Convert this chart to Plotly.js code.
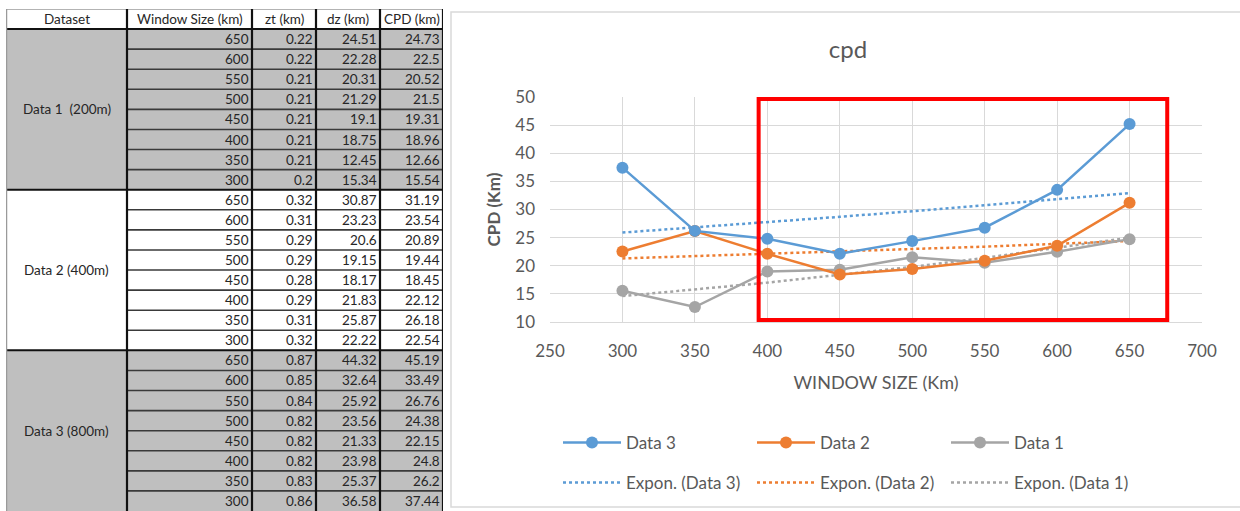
<!DOCTYPE html>
<html>
<head>
<meta charset="utf-8">
<script src="https://cdn.plot.ly/plotly-3.0.1.min.js"></script>
<style>html,body{margin:0;padding:0;background:#fff;}#chart{width:1240px;height:511px;}</style>
</head>
<body>
<div id="chart"></div>
<script>
// ---- Table data (as printed, rows from 650 down to 300) ----
const tableHeaders = ["Dataset", "Window Size (km)", "zt (km)", "dz (km)", "CPD (km)"];
const datasetLabels = ["Data 1  (200m)", "Data 2 (400m)", "Data 3 (800m)"];
const windowSizes = [650, 600, 550, 500, 450, 400, 350, 300];
const zt1 = [0.22, 0.22, 0.21, 0.21, 0.21, 0.21, 0.21, 0.2];
const dz1 = [24.51, 22.28, 20.31, 21.29, 19.1, 18.75, 12.45, 15.34];
const cpd1 = [24.73, 22.5, 20.52, 21.5, 19.31, 18.96, 12.66, 15.54];
const zt2 = [0.32, 0.31, 0.29, 0.29, 0.28, 0.29, 0.31, 0.32];
const dz2 = [30.87, 23.23, 20.6, 19.15, 18.17, 21.83, 25.87, 22.22];
const cpd2 = [31.19, 23.54, 20.89, 19.44, 18.45, 22.12, 26.18, 22.54];
const zt3 = [0.87, 0.85, 0.84, 0.82, 0.82, 0.82, 0.83, 0.86];
const dz3 = [44.32, 32.64, 25.92, 23.56, 21.33, 23.98, 25.37, 36.58];
const cpd3 = [45.19, 33.49, 26.76, 24.38, 22.15, 24.8, 26.2, 37.44];

// ---- Chart data ----
const chartTitle = "cpd";
const seriesNames = ["Data 3", "Data 2", "Data 1"];
const trendNames = ["Expon. (Data 3)", "Expon. (Data 2)", "Expon. (Data 1)"];
// exponential trendline values (x = 300..650)
const trend3 = [25.9, 26.8, 27.8, 28.7, 29.7, 30.8, 31.8, 32.9];
const trend2 = [21.3, 21.7, 22.1, 22.5, 23.0, 23.4, 23.9, 24.4];
const trend1 = [14.6, 15.8, 17.0, 18.4, 19.8, 21.4, 23.2, 25.0];
const highlightRange = {x: [394, 676], y: [10.35, 49.65]};

// ---- styles ----
const FONT = "Lato, 'Open Sans', sans-serif";
const TXT = "#595959";
const colors = {"Data 3": "#5B9BD5", "Data 2": "#ED7D31", "Data 1": "#A5A5A5"};
const groupFill = ["#BFBFBF", "#FFFFFF", "#BFBFBF"];
const colEdges = [0, 121, 246, 310, 374, 437]; // table column edges (x2 units)

const xs = windowSizes.slice().reverse();
const cpdBySeries = {"Data 3": cpd3.slice().reverse(), "Data 2": cpd2.slice().reverse(), "Data 1": cpd1.slice().reverse()};
const trendBySeries = {"Data 3": trend3, "Data 2": trend2, "Data 1": trend1};

const traces = [];
seriesNames.forEach((name, i) => {
  traces.push({
    type: "scatter", mode: "lines", x: xs, y: trendBySeries[name],
    name: trendNames[i], legend: "legend2", legendrank: i + 1,
    line: {color: colors[name], width: 2.5, dash: "dot"}, hoverinfo: "skip"
  });
});
seriesNames.slice().reverse().forEach((name) => {
  traces.push({
    type: "scatter", mode: "lines+markers", x: xs, y: cpdBySeries[name],
    name: name, legend: "legend", legendrank: seriesNames.indexOf(name) + 1,
    line: {color: colors[name], width: 2.5},
    marker: {color: colors[name], size: 12, symbol: "circle"}
  });
});
// invisible trace so the table axes exist
traces.push({type: "scatter", x: [0], y: [0], xaxis: "x2", yaxis: "y2", mode: "markers",
  marker: {opacity: 0}, showlegend: false, hoverinfo: "skip"});

// ---- table shapes & texts ----
const shapes = [];
const annotations = [];
const groups = [
  {label: datasetLabels[0], zt: zt1, dz: dz1, cpd: cpd1},
  {label: datasetLabels[1], zt: zt2, dz: dz2, cpd: cpd2},
  {label: datasetLabels[2], zt: zt3, dz: dz3, cpd: cpd3}
];
const nRows = windowSizes.length;
shapes.push({type: "rect", xref: "x2", yref: "y2", x0: 0, x1: colEdges[5], y0: -1, y1: 0,
  fillcolor: "#FFFFFF", line: {width: 0}, layer: "below"});
groups.forEach((g, gi) => {
  shapes.push({type: "rect", xref: "x2", yref: "y2", x0: 0, x1: colEdges[5],
    y0: gi * nRows, y1: (gi + 1) * nRows, fillcolor: groupFill[gi], line: {width: 0}, layer: "below"});
});
for (let r = 1; r < groups.length * nRows; r++) {
  const isGroup = r % nRows === 0;
  shapes.push({type: "line", xref: "x2", yref: "y2", x0: isGroup ? 0 : colEdges[1], x1: colEdges[5],
    y0: r, y1: r, line: {color: isGroup ? "#111111" : "#3a3a3a", width: isGroup ? 2 : 1.6}});
}
shapes.push({type: "line", xref: "x2", yref: "y2", x0: 0, x1: colEdges[5], y0: 0, y1: 0,
  line: {color: "#111111", width: 2}});
shapes.push({type: "line", xref: "x2", yref: "y2", x0: 0, x1: colEdges[5], y0: -1, y1: -1,
  line: {color: "#9a9a9a", width: 1.5}});
shapes.push({type: "line", xref: "x2", yref: "y2", x0: 0.5, x1: 0.5, y0: -1, y1: 30,
  line: {color: "#9a9a9a", width: 1.5}});
for (let c = 1; c < colEdges.length; c++) {
  shapes.push({type: "line", xref: "x2", yref: "y2", x0: colEdges[c], x1: colEdges[c], y0: -1, y1: 30,
    line: {color: "#111111", width: 2.2}});
}
const tFont = {family: FONT, size: 13.5, color: "#262626"};
tableHeaders.forEach((h, c) => {
  annotations.push({xref: "x2", yref: "y2", x: (colEdges[c] + colEdges[c + 1]) / 2, y: -0.5,
    text: h, showarrow: false, xanchor: "center", yanchor: "middle", font: tFont});
});
groups.forEach((g, gi) => {
  annotations.push({xref: "x2", yref: "y2", x: (colEdges[0] + colEdges[1]) / 2, y: gi * nRows + nRows / 2,
    text: g.label, showarrow: false, xanchor: "center", yanchor: "middle", font: tFont});
  windowSizes.forEach((w, r) => {
    const vals = [w, g.zt[r], g.dz[r], g.cpd[r]];
    vals.forEach((v, k) => {
      annotations.push({xref: "x2", yref: "y2", x: colEdges[k + 2] - 1.5, y: gi * nRows + r + 0.5,
        text: String(v), showarrow: false, xanchor: "right", yanchor: "middle", font: tFont});
    });
  });
});

shapes.push({type: "rect", xref: "paper", yref: "paper", x0: 451 / 1240, x1: 1.01, y0: 4 / 511, y1: 1 - 12 / 511,
  line: {color: "#D9D9D9", width: 1.5}, fillcolor: "rgba(0,0,0,0)", layer: "below"});
shapes.push({type: "rect", xref: "x", yref: "y", x0: highlightRange.x[0], x1: highlightRange.x[1],
  y0: highlightRange.y[0], y1: highlightRange.y[1], line: {color: "#FF0000", width: 4}, fillcolor: "rgba(0,0,0,0)"});

const legendCommon = {orientation: "h", x: 558 / 1240, xanchor: "left", yanchor: "middle",
  entrywidth: 121, entrywidthmode: "pixels", itemwidth: 58, bgcolor: "rgba(0,0,0,0)",
  font: {family: FONT, size: 17, color: TXT}};

const layout = {
  width: 1240, height: 511,
  margin: {l: 0, r: 0, t: 0, b: 0, autoexpand: false},
  paper_bgcolor: "#FFFFFF", plot_bgcolor: "#FFFFFF",
  font: {family: FONT, color: TXT},
  title: {text: chartTitle, x: 848 / 1240, xanchor: "center", y: 1 - 50 / 511, yanchor: "middle",
    font: {family: FONT, size: 24, color: TXT}},
  xaxis: {domain: [550 / 1240, 1202 / 1240], range: [250, 700], dtick: 50, tick0: 250, automargin: false,
    showgrid: true, gridcolor: "#D9D9D9", gridwidth: 1, zeroline: false,
    showline: true, linecolor: "#D9D9D9", linewidth: 1, ticks: "",
    tickfont: {family: FONT, size: 17, color: TXT}, ticklabelstandoff: 14,
    title: {text: "WINDOW SIZE (Km)", font: {family: FONT, size: 18, color: TXT}, standoff: 15}},
  yaxis: {domain: [1 - 322 / 511, 1 - 97 / 511], range: [10, 50], dtick: 5, automargin: false,
    showgrid: true, gridcolor: "#D9D9D9", gridwidth: 1, zeroline: false,
    showline: false, ticks: "",
    tickfont: {family: FONT, size: 17, color: TXT}, ticklabelstandoff: 14,
    title: {text: "CPD (Km)", font: {family: FONT, size: 17, color: TXT, weight: "bold"}, standoff: 10}},
  xaxis2: {domain: [6 / 1240, 443 / 1240], range: [0, 437], visible: false, fixedrange: true},
  yaxis2: {domain: [0, 1 - 9 / 511], range: [24.0, -1], visible: false, fixedrange: true},
  showlegend: true,
  legend: Object.assign({}, legendCommon, {y: 1 - 443 / 511}),
  legend2: Object.assign({}, legendCommon, {y: 1 - 483 / 511}),
  shapes: shapes,
  annotations: annotations
};

Plotly.newPlot("chart", traces, layout, {staticPlot: true, displayModeBar: false});
</script>
</body>
</html>
